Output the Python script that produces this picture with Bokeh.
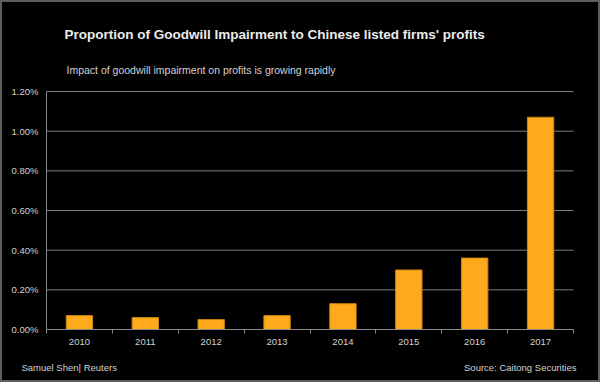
from bokeh.plotting import figure
from bokeh.models import Label, FixedTicker, NumeralTickFormatter, ColumnDataSource, Range1d
from bokeh.embed import file_html
from bokeh.resources import INLINE

years = [2010, 2011, 2012, 2013, 2014, 2015, 2016, 2017]
share = [0.0007, 0.0006, 0.0005, 0.0007, 0.0013, 0.0030, 0.0036, 0.0107]
y_ticks = [0.0, 0.002, 0.004, 0.006, 0.008, 0.010, 0.012]
title = "Proportion of Goodwill Impairment to Chinese listed firms' profits"
subtitle = "Impact of goodwill impairment on profits is growing rapidly"
credit = "Samuel Shen| Reuters"
source_note = "Source: Caitong Securities"

W, H = 600, 382
FONT = "Liberation Sans"
# pixel layout of the axes box inside the canvas
AX_L, AX_R, AX_B, AX_T = 46, 573, 329, 91

x_lo, x_hi = years[0] - 0.5, years[-1] + 0.5
xpu = (AX_R - AX_L) / (x_hi - x_lo)
ypu = (AX_B - AX_T) / y_ticks[-1]
x_range = Range1d(x_lo - AX_L / xpu, x_hi + (W - AX_R) / xpu)
y_range = Range1d(-(H - AX_B) / ypu, y_ticks[-1] + AX_T / ypu)

p = figure(width=W, height=H, output_backend="svg", toolbar_location=None,
           x_range=x_range, y_range=y_range, min_border=0)
p.background_fill_color = "black"
p.border_fill_color = "black"
p.outline_line_color = "#5e5e5e"
p.outline_line_width = 3
p.grid.visible = False

# horizontal gridlines limited to the axes box
gsrc = ColumnDataSource(dict(y=y_ticks[1:], x0=[x_lo] * (len(y_ticks) - 1), x1=[x_hi] * (len(y_ticks) - 1)))
p.segment(x0="x0", x1="x1", y0="y", y1="y", source=gsrc, line_color="#7c7c7c", line_width=1)

src = ColumnDataSource(dict(x=years, top=share))
p.vbar(x="x", top="top", width=0.4, source=src, fill_color="#FFAA1D", line_color="#C8870F", line_width=1)

yax = p.yaxis[0]
yax.fixed_location = x_lo
yax.bounds = (0, y_ticks[-1])
yax.ticker = FixedTicker(ticks=y_ticks)
yax.formatter = NumeralTickFormatter(format="0.00%")
yax.axis_line_color = "#8a8a8a"
yax.major_tick_line_color = None
yax.minor_tick_line_color = None
yax.major_tick_out = 0
yax.major_tick_in = 0
yax.minor_tick_out = 0
yax.major_label_standoff = 8
yax.major_label_text_color = "#d2d2d2"
yax.major_label_text_font = FONT
yax.major_label_text_font_size = "9.5px"

xax = p.xaxis[0]
xax.fixed_location = 0
xax.bounds = (x_lo, x_hi)
xax.ticker = FixedTicker(ticks=years, minor_ticks=[y - 0.5 for y in years] + [x_hi])
xax.major_label_overrides = {y: str(y) for y in years}
xax.axis_line_color = "#8a8a8a"
xax.major_tick_line_color = None
xax.major_tick_out = 0
xax.major_tick_in = 0
xax.minor_tick_line_color = "#8a8a8a"
xax.minor_tick_in = 0
xax.minor_tick_out = 4
xax.major_label_standoff = 5
xax.major_label_text_color = "#d2d2d2"
xax.major_label_text_font = FONT
xax.major_label_text_font_size = "9.5px"

def lab(x, y_mid, text, size, bold=False, align="left", color="#d2d2d2"):
    p.add_layout(Label(x=x, y=H - y_mid, x_units="screen", y_units="screen", text=text,
                       text_font=FONT, text_font_size=size, text_color=color,
                       text_font_style="bold" if bold else "normal",
                       text_align=align, text_baseline="middle"))

lab(64, 33.5, title, "13.5px", bold=True, color="#ebebeb")
lab(66, 69, subtitle, "10.5px")
lab(21, 367, credit, "9.5px")
lab(576, 367, source_note, "9.5px", align="right")

open("out.html", "w").write(file_html(p, INLINE))
